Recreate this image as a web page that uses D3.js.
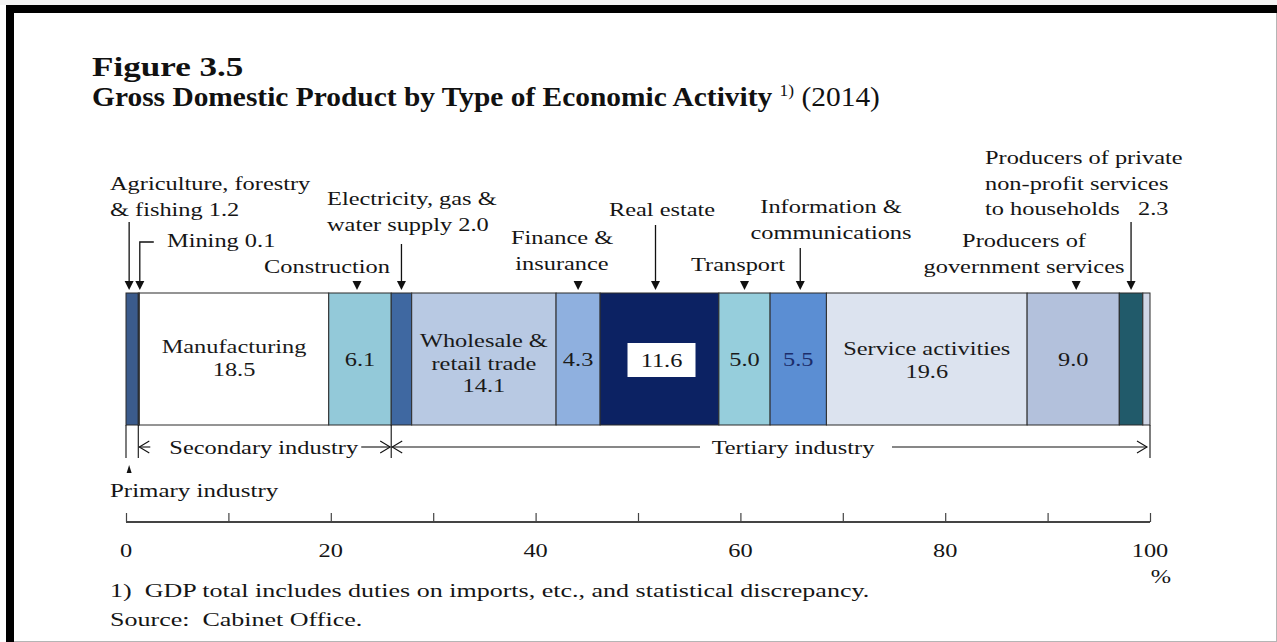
<!DOCTYPE html>
<html>
<head>
<meta charset="utf-8">
<script src="https://cdn.jsdelivr.net/npm/d3@7"></script>
<style>
  body { margin: 0; background: #fff; }
  svg { display: block; }
</style>
</head>
<body>
<svg id="chart" width="1277" height="642"></svg>
<script>
// ---- data -------------------------------------------------------------
const sectors = [
  "Agriculture, forestry & fishing", "Mining", "Manufacturing", "Construction",
  "Electricity, gas & water supply", "Wholesale & retail trade",
  "Finance & insurance", "Real estate", "Transport",
  "Information & communications", "Service activities",
  "Producers of government services",
  "Producers of private non-profit services to households", "Other"
];
const shares = [1.2, 0.1, 18.5, 6.1, 2.0, 14.1, 4.3, 11.6, 5.0, 5.5, 19.6, 9.0, 2.3, 0.7];
const industry = ["Primary", "Secondary", "Secondary", "Secondary", "Tertiary",
  "Tertiary", "Tertiary", "Tertiary", "Tertiary", "Tertiary", "Tertiary",
  "Tertiary", "Tertiary", "Tertiary"];
const axisTicks = [0, 10, 20, 30, 40, 50, 60, 70, 80, 90, 100];
const axisLabels = [0, 20, 40, 60, 80, 100];

// ---- styles ------------------------------------------------------------
const palette = ["#3b5b8c", "#2c4470", "#ffffff", "#93c9d9", "#3f68a1", "#b8c9e3",
  "#8fb0df", "#0c2263", "#96cedc", "#5b8ed3", "#dce3ef", "#b3c1dc", "#215a6a", "#cfd6e6"];
const SERIF = "'Liberation Serif', 'Times New Roman', serif";
const SX = 1.34;          // horizontal stretch of the typeface
const BODY = 18.2;
const NB = "\u00a0";      // non-collapsing space

const svg = d3.select("#chart");

// page frame
svg.append("rect").attr("x", 0).attr("y", 0).attr("width", 1277).attr("height", 5).attr("fill", "#f4f4f4");
svg.append("rect").attr("x", 6).attr("y", 5).attr("width", 1271).attr("height", 8).attr("fill", "#000");
svg.append("rect").attr("x", 6).attr("y", 5).attr("width", 8).attr("height", 637).attr("fill", "#000");
svg.append("line").attr("x1", 1276.5).attr("x2", 1276.5).attr("y1", 13).attr("y2", 642).attr("stroke", "#b5b5b5");
svg.append("line").attr("x1", 14).attr("x2", 1277).attr("y1", 641.5).attr("y2", 641.5).attr("stroke", "#b5b5b5");

// text helper: stretched serif text
function txt(g, x, y, s, o = {}) {
  return g.append("text")
    .attr("transform", `translate(${x},${y}) scale(${o.sx || SX},1)`)
    .attr("font-family", SERIF)
    .attr("font-size", o.size || BODY)
    .attr("font-weight", o.weight || "normal")
    .attr("text-anchor", o.anchor || "start")
    .attr("fill", o.fill || "#151515")
    .text(s);
}

// ---- title -------------------------------------------------------------
const title = svg.append("g");
txt(title, 92, 76, "Figure 3.5", { size: 27, weight: "bold", sx: 1.3, fill: "#111" });
const t2 = title.append("text")
  .attr("transform", "translate(92,106) scale(1.09,1)")
  .attr("font-family", SERIF).attr("font-size", 27).attr("fill", "#111");
t2.append("tspan").attr("font-weight", "bold").text("Gross Domestic Product by Type of Economic Activity ");
t2.append("tspan").attr("font-size", 16).attr("dy", -10).text("1)");
t2.append("tspan").attr("dy", 10).text(" (2014)");

// ---- scales ------------------------------------------------------------
const x = d3.scaleLinear().domain([0, 100]).range([126, 1150]);
const barTop = 293, barBottom = 425;

const cum = [];
shares.reduce((acc, v, i) => { cum[i] = acc; return acc + v; }, 0);
const segs = shares.map((v, i) => ({ name: sectors[i], v, x0: cum[i], x1: cum[i] + v, i }));
const mid = i => x(segs[i].x0 + segs[i].v / 2);

// ---- bar ---------------------------------------------------------------
const bar = svg.append("g");
bar.selectAll("rect").data(segs).join("rect")
  .attr("x", d => x(d.x0))
  .attr("y", barTop)
  .attr("width", d => x(d.x1) - x(d.x0))
  .attr("height", barBottom - barTop)
  .attr("fill", (d, i) => palette[i])
  .attr("stroke", "#2b2b2b")
  .attr("stroke-width", 1);

// labels inside bar
const inBar = [
  { i: 2, lines: ["Manufacturing"], y: 353 },
  { i: 3, lines: [], y: 366 },
  { i: 5, lines: ["Wholesale &", "retail trade"], y: 347 },
  { i: 6, lines: [], y: 366 },
  { i: 8, lines: [], y: 366 },
  { i: 9, lines: [], y: 366, fill: "#1b2d6b" },
  { i: 10, lines: ["Service activities"], y: 355 },
  { i: 11, lines: [], y: 366 }
];
inBar.forEach(l => {
  [...l.lines, shares[l.i].toFixed(1)].forEach((s, k) =>
    txt(bar, mid(l.i), l.y + k * 22.5, s, { anchor: "middle", fill: l.fill || "#1a1a1a" }));
});
// real estate label in a white box
{
  const cx = mid(7);
  bar.append("rect").attr("x", cx - 32).attr("y", 343).attr("width", 68).attr("height", 34).attr("fill", "#fff");
  txt(bar, cx + 2, 367, shares[7].toFixed(1), { anchor: "middle" });
}

// ---- callouts above the bar -------------------------------------------
const ann = svg.append("g");
const head = (g, cx, tipY) => g.append("path")
  .attr("d", `M${cx - 4.5},${tipY - 9}L${cx + 4.5},${tipY - 9}L${cx},${tipY}Z`).attr("fill", "#111");
const arrow = (g, cx, y0, tipY) => {
  g.append("line").attr("x1", cx).attr("x2", cx).attr("y1", y0).attr("y2", tipY - 6)
    .attr("stroke", "#111").attr("stroke-width", 1.3);
  head(g, cx, tipY);
};

const callouts = [
  { i: 0, lines: ["Agriculture, forestry", `& fishing ${shares[0].toFixed(1)}`], x: 110, y: 190, anchor: "start", kind: "arrow", from: 222, dx: -3 },
  { i: 3, lines: ["Construction"], x: 327, y: 273, anchor: "middle", kind: "tri", dx: -3 },
  { i: 4, lines: ["Electricity, gas &", `water supply ${shares[4].toFixed(1)}`], x: 327, y: 205, anchor: "start", kind: "arrow", from: 244 },
  { i: 6, lines: ["Finance &", "insurance"], x: 562, y: 244, anchor: "middle", kind: "tri" },
  { i: 7, lines: ["Real estate"], x: 662, y: 216, anchor: "middle", kind: "arrow", from: 225, dx: -4 },
  { i: 8, lines: ["Transport"], x: 738, y: 271, anchor: "middle", kind: "tri" },
  { i: 9, lines: ["Information &", "communications"], x: 831, y: 213, anchor: "middle", kind: "arrow", from: 248, dx: 2 },
  { i: 11, lines: ["Producers of", "government services"], x: 1024, y: 247, anchor: "middle", kind: "tri", dx: 3 },
  { i: 12, lines: ["Producers of private", "non-profit services", `to households${NB}${NB}${NB}${shares[12].toFixed(1)}`], x: 985, y: 164, anchor: "start", kind: "arrow", from: 222 }
];
callouts.forEach(c => {
  c.lines.forEach((s, k) => txt(ann, c.x, c.y + k * 25.5, s, { anchor: c.anchor }));
  const cx = mid(c.i) + (c.dx || 0);
  if (c.kind === "arrow") arrow(ann, cx, c.from, 290);
  else head(ann, cx, 290);
});
// mining: elbow leader
{
  const cx = mid(1) + 1;
  ann.append("path").attr("d", `M${cx + 14},242H${cx}V284`).attr("fill", "none")
    .attr("stroke", "#111").attr("stroke-width", 1.3);
  head(ann, cx, 290);
  txt(ann, 167, 247, `Mining ${shares[1].toFixed(1)}`);
}

// ---- industry brackets ------------------------------------------------
const groups = d3.groups(segs, d => industry[d.i]).map(([k, arr]) => ({
  k, x0: d3.min(arr, d => d.x0), x1: d3.max(arr, d => d.x1)
}));
const brk = svg.append("g").attr("stroke", "#111").attr("stroke-width", 1.1).attr("fill", "none");
const edges = [...new Set(groups.flatMap(g => [g.x0, g.x1]))];
edges.forEach(v => brk.append("line").attr("x1", x(v)).attr("x2", x(v)).attr("y1", barBottom).attr("y2", 458));
const by = 447;
const chevL = (px) => brk.append("path").attr("d", `M${px + 11},${by - 6}L${px + 1},${by}L${px + 11},${by + 6}`);
const chevR = (px) => brk.append("path").attr("d", `M${px - 11},${by - 6}L${px - 1},${by}L${px - 11},${by + 6}`);

const sec = groups.find(g => g.k === "Secondary");
const ter = groups.find(g => g.k === "Tertiary");
const pri = groups.find(g => g.k === "Primary");
// secondary
chevL(x(sec.x0)); brk.append("line").attr("x1", x(sec.x0) + 1).attr("x2", x(sec.x0) + 12).attr("y1", by).attr("y2", by);
chevR(x(sec.x1)); brk.append("line").attr("x1", x(sec.x1) - 30).attr("x2", x(sec.x1) - 1).attr("y1", by).attr("y2", by);
txt(svg, (x(sec.x0) + x(sec.x1)) / 2 - 1, 454, "Secondary industry", { anchor: "middle" });
// tertiary
chevL(x(ter.x0)); brk.append("line").attr("x1", x(ter.x0) + 1).attr("x2", 700).attr("y1", by).attr("y2", by);
chevR(x(ter.x1) - 2); brk.append("line").attr("x1", 892).attr("x2", x(ter.x1) - 3).attr("y1", by).attr("y2", by);
txt(svg, 793, 454, "Tertiary industry", { anchor: "middle" });
// primary
{
  const cx = x((pri.x0 + pri.x1) / 2) - 3;
  svg.append("path").attr("d", `M${cx - 2.5},473L${cx + 2.5},473L${cx},465Z`).attr("fill", "#111");
  txt(svg, 110, 497, "Primary industry", { sx: 1.37 });
}

// ---- axis --------------------------------------------------------------
const axisY = 522;
const ax = svg.append("g").attr("transform", `translate(0,${axisY})`)
  .call(d3.axisTop(x).tickValues(axisTicks).tickSize(9).tickFormat(""));
ax.select(".domain").attr("stroke", "#444").attr("stroke-width", 2).attr("d", `M${x(0)},0H${x(100)}`);
ax.selectAll(".tick line").attr("stroke", "#444").attr("stroke-width", 1.2);
axisLabels.forEach(v => txt(svg, x(v), 557, String(v), { anchor: "middle" }));
txt(svg, x(100) + 11, 583, "%", { anchor: "middle" });

// ---- notes -------------------------------------------------------------
txt(svg, 110, 597, `1)${NB}${NB}GDP total includes duties on imports, etc., and statistical discrepancy.`, { sx: 1.43 });
txt(svg, 110, 626, `Source:${NB}${NB}Cabinet Office.`, { sx: 1.43 });
</script>
</body>
</html>
